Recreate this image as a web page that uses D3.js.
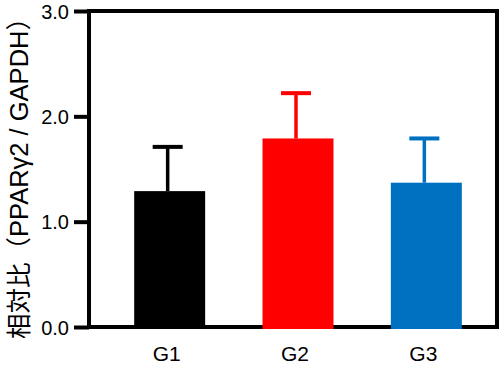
<!DOCTYPE html>
<html>
<head>
<meta charset="utf-8">
<script src="https://cdn.jsdelivr.net/npm/d3@7"></script>
<style>
  body { margin: 0; background: #fff; }
  svg { display: block; }
  text { font-family: Arial, "Liberation Sans", sans-serif; fill: #000; }
</style>
</head>
<body>
<svg id="chart" width="501" height="366"></svg>
<script>
// data
var groups = ["G1", "G2", "G3"];
var means = [1.29, 1.79, 1.37];
var errs = [0.42, 0.43, 0.42];
var yTicks = [0, 1, 2, 3];
var colors = ["#000000", "#ff0000", "#0070c0"];
var yTitle = "相対比（PPARγ2 / GAPDH）";

(function(){
	var svg = d3.select("#chart");
	var frame = {left: 89, right: 497, top: 11, bottom: 327};

	var y = d3.scaleLinear().domain([0, 3]).range([frame.bottom, frame.top]);
	var x = d3.scaleBand().domain(groups).range([105.5, 490.5])
		.paddingInner(0.447).paddingOuter(0.2235);

	//frame box
	svg.append("rect")
		.attr("x", frame.left).attr("y", frame.top)
		.attr("width", frame.right - frame.left)
		.attr("height", frame.bottom - frame.top)
		.attr("fill", "none").attr("stroke", "#000").attr("stroke-width", 4);

	//left axis ticks + labels
	var yAxis = d3.axisLeft(y).tickValues(yTicks).tickSize(15).tickPadding(5)
		.tickFormat(d3.format(".1f"));
	var ga = svg.append("g").attr("transform", "translate(" + frame.left + ",0)").call(yAxis);
	ga.select(".domain").remove();
	ga.selectAll(".tick line").attr("stroke", "#000").attr("stroke-width", 4);
	ga.selectAll(".tick text").attr("font-size", 20).attr("font-family", "Arial, 'Liberation Sans', sans-serif")
		.attr("fill", "#000").attr("dy", "0.35em");

	var rows = groups.map(function(g, i){ return {g: g, m: means[i], e: errs[i], c: colors[i]}; });

	//error bars (upper only)
	var eb = svg.append("g").selectAll("g").data(rows).enter().append("g");
	eb.append("line")
		.attr("x1", function(d){ return x(d.g) + x.bandwidth()/2 - 2; })
		.attr("x2", function(d){ return x(d.g) + x.bandwidth()/2 - 2; })
		.attr("y1", function(d){ return y(d.m); })
		.attr("y2", function(d){ return y(d.m + d.e); })
		.attr("stroke", function(d){ return d.c; }).attr("stroke-width", 3.5);
	eb.append("line")
		.attr("x1", function(d){ return x(d.g) + x.bandwidth()/2 - 17; })
		.attr("x2", function(d){ return x(d.g) + x.bandwidth()/2 + 13; })
		.attr("y1", function(d){ return y(d.m + d.e); })
		.attr("y2", function(d){ return y(d.m + d.e); })
		.attr("stroke", function(d){ return d.c; }).attr("stroke-width", 4);

	//bars
	svg.append("g").selectAll("rect").data(rows).enter().append("rect")
		.attr("x", function(d){ return x(d.g); })
		.attr("y", function(d){ return y(d.m); })
		.attr("width", x.bandwidth())
		.attr("height", function(d){ return y(0) - y(d.m) + 2; })
		.attr("fill", function(d){ return d.c; });

	//x labels
	svg.append("g").selectAll("text").data(groups).enter().append("text")
		.attr("x", function(d){ return x(d) + x.bandwidth()/2 - 3; })
		.attr("y", 361)
		.attr("text-anchor", "middle")
		.attr("font-size", 21)
		.text(function(d){ return d; });

	//y title
	svg.append("text")
		.attr("transform", "translate(28,172) rotate(-90)")
		.attr("text-anchor", "middle")
		.attr("font-size", 25.5)
		.style("font-family", "Arial, 'Liberation Sans', 'Noto Sans CJK JP', sans-serif")
		.attr("fill", "#444")
		.text(yTitle);
})();
</script>
</body>
</html>
